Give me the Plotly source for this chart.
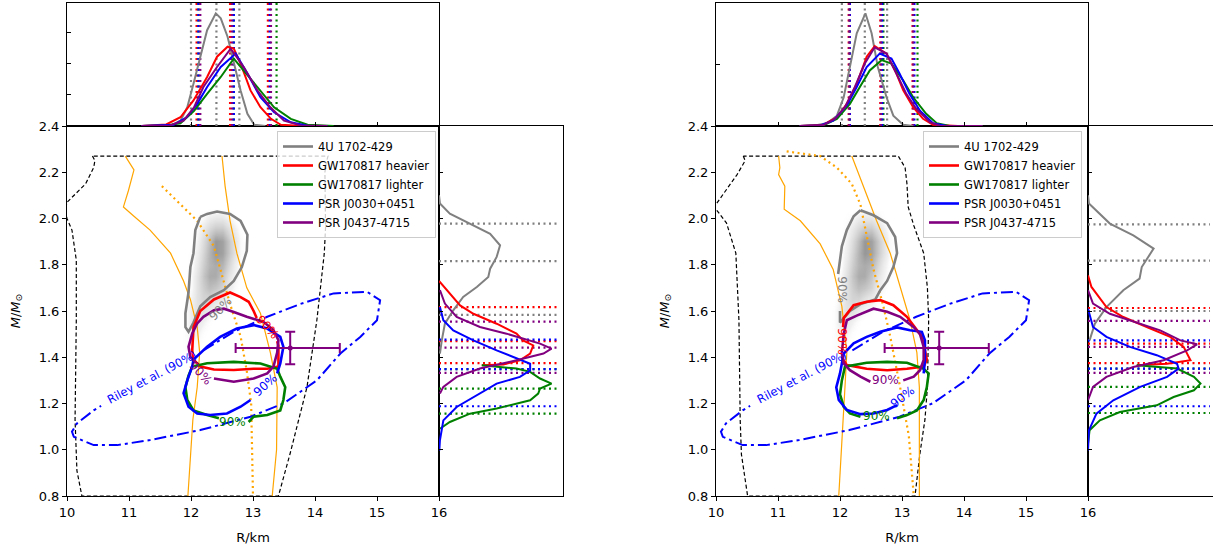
import plotly.graph_objects as go

# ---------------- DATA ----------------
YTICKS = [0.8, 1.0, 1.2, 1.4, 1.6, 1.8, 2.0, 2.2, 2.4]
XTICKS = [10, 11, 12, 13, 14, 15, 16]
SERIES = ["4U 1702-429", "GW170817 heavier", "GW170817 lighter", "PSR J0030+0451", "PSR J0437-4715"]
KEYS = ["gray", "red", "green", "blue", "purple"]

# gray 2D density (shared by both panels)
BLOB_R = [11.8, 11.9, 12.0, 12.1, 12.2, 12.3, 12.4, 12.5, 12.6, 12.7, 12.8, 12.9, 13.0]
BLOB_M = [1.45, 1.50, 1.55, 1.60, 1.65, 1.70, 1.75, 1.80, 1.85, 1.90, 1.95, 2.00, 2.05]
BLOB_Z = [
    [0, 0.05, 0.10, 0.05, 0, 0, 0, 0, 0, 0, 0, 0, 0],
    [0, 0.05, 0.15, 0.15, 0.05, 0, 0, 0, 0, 0, 0, 0, 0],
    [0, 0.05, 0.20, 0.25, 0.15, 0.05, 0, 0, 0, 0, 0, 0, 0],
    [0, 0.05, 0.20, 0.30, 0.30, 0.20, 0.10, 0.05, 0, 0, 0, 0, 0],
    [0, 0, 0.15, 0.30, 0.40, 0.40, 0.30, 0.20, 0.10, 0, 0, 0, 0],
    [0, 0, 0.10, 0.30, 0.45, 0.55, 0.50, 0.40, 0.20, 0.10, 0, 0, 0],
    [0, 0, 0.10, 0.30, 0.50, 0.65, 0.65, 0.50, 0.30, 0.15, 0.05, 0, 0],
    [0, 0, 0.05, 0.25, 0.45, 0.60, 0.65, 0.60, 0.40, 0.20, 0.05, 0, 0],
    [0, 0, 0.05, 0.20, 0.40, 0.60, 0.75, 0.70, 0.50, 0.30, 0.10, 0, 0],
    [0, 0, 0, 0.15, 0.35, 0.55, 0.75, 0.70, 0.50, 0.30, 0.10, 0, 0],
    [0, 0, 0, 0.10, 0.25, 0.40, 0.50, 0.50, 0.35, 0.20, 0.05, 0, 0],
    [0, 0, 0, 0.05, 0.10, 0.20, 0.25, 0.25, 0.15, 0.05, 0, 0, 0],
    [0, 0, 0, 0, 0, 0, 0, 0, 0, 0, 0, 0, 0],
]

# Riley et al. 90% ellipse (shared), gap where the label sits
RILEY_R = [12.20, 12.69, 13.23, 13.76, 14.30, 14.84, 15.05, 15.00, 14.73, 14.41, 14.03, 13.49, 12.96, 12.15,
           11.34, 10.81, 10.43, 10.11, 10.08, 10.16, 10.43, 10.55]
RILEY_M = [1.43, 1.51, 1.575, 1.63, 1.676, 1.683, 1.647, 1.56, 1.488, 1.416, 1.30, 1.20, 1.143, 1.085,
           1.042, 1.02, 1.02, 1.056, 1.078, 1.114, 1.17, 1.19]
# PSR J0437-4715 point with error bars
PSR_R, PSR_M = 13.6, 1.44
PSR_R_LO, PSR_R_HI = 0.88, 0.80
PSR_M_ERR = 0.07

# ---- left panel ----
L_DASH_R = [10.41, 10.45, 10.43, 10.30, 10.00, 9.97, 10.00, 10.08, 10.15, 10.15, 10.13, 10.16, 10.24, 13.41,
            13.60, 13.87, 14.03, 14.15, 14.17, 14.16, 14.16, 14.18, 14.21, 10.41]
L_DASH_M = [2.27, 2.25, 2.22, 2.15, 2.07, 2.035, 2.00, 1.95, 1.82, 1.56, 1.13, 0.91, 0.80, 0.80,
            0.985, 1.27, 1.56, 1.85, 1.96, 2.10, 2.20, 2.24, 2.27, 2.27]
L_OR1_R = [10.94, 11.08, 10.99, 10.91, 11.08, 11.34, 11.67, 11.88, 11.99, 12.10, 12.14, 12.10, 12.03, 11.99, 11.95]
L_OR1_M = [2.27, 2.21, 2.12, 2.05, 2.01, 1.95, 1.85, 1.73, 1.65, 1.53, 1.42, 1.27, 1.13, 0.98, 0.80]
L_OR2_R = [12.50, 12.55, 12.63, 12.74, 12.90, 13.12, 13.28, 13.39, 13.38, 13.31]
L_OR2_M = [2.27, 2.14, 1.99, 1.85, 1.70, 1.59, 1.42, 1.27, 1.00, 0.80]
L_ORD_R = [11.53, 11.83, 12.10, 12.37, 12.47, 12.63, 12.80, 12.90, 12.97, 12.98, 13.00]
L_ORD_M = [2.14, 2.06, 1.99, 1.88, 1.78, 1.63, 1.49, 1.34, 1.20, 0.98, 0.80]

L_CONT = {
    "gray": ([12.15, 12.07, 12.04, 11.99, 11.96, 11.91, 11.91, 11.96, 12.04, 12.15, 12.31, 12.53, 12.69, 12.82, 12.90,
              12.91, 12.80, 12.63, 12.42, 12.26, 12.15],
             [2.007, 1.95, 1.85, 1.79, 1.68, 1.59, 1.53, 1.51, 1.55, 1.62, 1.66, 1.69, 1.73, 1.79, 1.86,
              1.93, 1.99, 2.02, 2.03, 2.02, 2.007]),
    "red": ([13.06, 13.01, 12.93, 12.80, 12.63, 12.37, 12.15, 12.04, 12.02, 12.04, 12.15, 12.37, 12.69, 13.01, 13.23,
             13.41, 13.41, 13.41, 13.39],
            [1.57, 1.60, 1.64, 1.66, 1.68, 1.65, 1.60, 1.53, 1.43, 1.39, 1.36, 1.347, 1.345, 1.35, 1.35,
             1.36, 1.42, 1.45, 1.47]),
    "green": ([12.93, 13.01, 13.23, 13.44, 13.49, 13.52, 13.44, 13.39, 13.12, 12.69, 12.26, 12.02, 11.96, 11.91, 11.94,
               12.04, 12.26, 12.45],
              [1.12, 1.143, 1.15, 1.17, 1.215, 1.27, 1.316, 1.35, 1.373, 1.38, 1.374, 1.36, 1.32, 1.27, 1.215,
               1.17, 1.15, 1.136]),
    "blue": ([13.39, 13.44, 13.49, 13.44, 13.23, 13.01, 12.74, 12.47, 12.26, 12.04, 12.02, 11.94, 11.88, 11.96, 12.10,
              12.31, 12.58, 12.80, 12.96],
             [1.33, 1.373, 1.445, 1.488, 1.524, 1.539, 1.524, 1.488, 1.445, 1.39, 1.36, 1.30, 1.244, 1.186, 1.157,
              1.15, 1.157, 1.186, 1.215]),
    "purple": ([12.37, 12.69, 13.01, 13.23, 13.33, 13.39, 13.41, 13.33, 13.17, 12.90, 12.69, 12.53, 12.37, 12.20, 12.10,
                12.02, 11.96, 11.99, 12.07],
               [1.308, 1.294, 1.308, 1.33, 1.36, 1.42, 1.474, 1.517, 1.553, 1.575, 1.596, 1.61, 1.603, 1.575, 1.546,
                1.503, 1.445, 1.40, 1.38]),
}
L_LABELS = [("gray", 12.47, 1.61, -47), ("red", 13.23, 1.53, 48), ("purple", 12.15, 1.33, 48),
            ("blue", 13.20, 1.28, -42), ("green", 12.67, 1.12, 0)]
L_RILEY_LABEL = (11.37, 1.316, -28)

L_TOP = {
    "gray": ([11.5, 11.7, 11.83, 11.94, 12.04, 12.15, 12.26, 12.40, 12.48, 12.59, 12.69, 12.80, 12.91, 13.02, 13.2],
             [0, 0.04, 0.17, 0.6, 1.35, 2.2, 3.07, 3.61, 3.45, 2.86, 2.0, 1.14, 0.39, 0.04, 0]),
    "red": ([11.2, 11.6, 11.83, 12.04, 12.26, 12.42, 12.59, 12.69, 12.80, 12.96, 13.12, 13.29, 13.45, 13.8],
            [0, 0.05, 0.28, 0.82, 1.57, 2.22, 2.54, 2.48, 2.0, 1.14, 0.6, 0.23, 0.04, 0]),
    "green": ([11.2, 11.6, 11.83, 12.05, 12.26, 12.48, 12.69, 12.91, 13.12, 13.34, 13.61, 13.88, 14.3],
              [0, 0.02, 0.09, 0.49, 1.03, 1.57, 2.16, 1.62, 1.14, 0.6, 0.23, 0.04, 0]),
    "blue": ([11.2, 11.72, 11.93, 12.10, 12.26, 12.48, 12.72, 12.91, 13.12, 13.34, 13.61, 13.88, 14.2],
             [0, 0.04, 0.28, 0.71, 1.25, 1.89, 2.32, 1.68, 0.92, 0.44, 0.12, 0.01, 0]),
    "purple": ([11.2, 11.66, 11.88, 12.05, 12.20, 12.42, 12.64, 12.85, 13.07, 13.28, 13.5, 13.77, 14.2],
               [0, 0.02, 0.17, 0.6, 1.25, 1.89, 2.48, 1.89, 1.14, 0.6, 0.17, 0.02, 0]),
}
L_TOP_LINES = {"gray": [12.00, 12.41, 12.78], "red": [12.09, 12.63, 13.24], "green": [12.12, 12.69, 13.38],
               "blue": [12.12, 12.69, 13.27], "purple": [12.15, 12.66, 13.29]}
L_SIDE = {
    "gray": ([0, 0.03, 0.35, 1.0, 1.65, 1.97, 1.86, 1.65, 1.59, 1.22, 0.78, 0.46, 0.19, 0.09, 0.03],
             [2.10, 2.065, 2.021, 1.978, 1.934, 1.884, 1.834, 1.783, 1.747, 1.704, 1.661, 1.603, 1.545, 1.473, 1.416]),
    "red": ([0.0, 0.35, 0.68, 1.11, 1.86, 2.5, 2.71, 3.04, 2.94, 2.61, 2.08, 1.38],
            [1.73, 1.675, 1.624, 1.588, 1.545, 1.502, 1.473, 1.451, 1.416, 1.387, 1.369, 1.365]),
    "green": ([1.38, 2.5, 2.94, 3.26, 3.63, 3.26, 3.2, 2.94, 1.86, 1.0, 0.35, 0.03],
              [1.365, 1.351, 1.337, 1.308, 1.286, 1.265, 1.243, 1.214, 1.178, 1.156, 1.12, 1.091]),
    "blue": ([0.03, 0.14, 0.46, 1.11, 1.86, 2.5, 2.94, 2.94, 2.61, 1.86, 1.32, 0.57, 0.14, 0.03, 0.01],
             [1.617, 1.56, 1.516, 1.473, 1.43, 1.394, 1.372, 1.343, 1.315, 1.286, 1.243, 1.185, 1.127, 1.041, 0.997]),
    "purple": ([0.03, 0.19, 0.57, 1.32, 2.18, 3.26, 3.63, 3.37, 2.5, 1.32, 0.57, 0.14, 0.03],
               [1.69, 1.632, 1.574, 1.531, 1.502, 1.459, 1.437, 1.416, 1.387, 1.351, 1.315, 1.272, 1.243]),
}
L_SIDE_LINES = {"gray": [1.978, 1.816, 1.583], "red": [1.617, 1.470, 1.375], "green": [1.349, 1.264, 1.156],
                "blue": [1.476, 1.349, 1.188], "purple": [1.554, 1.442, 1.332]}

# ---- right panel ----
R_DASH_R = [10.44, 10.47, 10.34, 10.15, 9.97, 10.00, 10.17, 10.32, 10.37, 10.39, 10.41, 10.51, 13.21,
            13.29, 13.37, 13.41, 13.43, 13.41, 13.35, 13.19, 13.10, 13.08, 13.05, 12.94, 10.44]
R_DASH_M = [2.27, 2.25, 2.19, 2.12, 2.05, 2.04, 1.98, 1.85, 1.56, 1.13, 0.98, 0.80, 0.80,
            0.985, 1.13, 1.27, 1.56, 1.70, 1.85, 1.97, 2.05, 2.15, 2.22, 2.27, 2.27]
R_OR1_R = [11.01, 11.03, 11.01, 11.11, 11.10, 11.36, 11.68, 11.89, 12.03, 12.11, 12.08, 12.03, 11.98]
R_OR1_M = [2.27, 2.22, 2.19, 2.14, 2.04, 1.99, 1.89, 1.78, 1.62, 1.42, 1.27, 1.06, 0.80]
R_OR2_R = [12.19, 12.33, 12.59, 12.81, 12.97, 13.13, 13.24, 13.28, 13.28]
R_OR2_M = [2.27, 2.17, 1.99, 1.85, 1.70, 1.56, 1.42, 1.27, 0.80]
R_ORD_R = [11.14, 11.41, 11.68, 11.95, 12.19, 12.33, 12.43, 12.54, 12.70, 12.81, 12.97, 13.11, 13.19]
R_ORD_M = [2.29, 2.28, 2.27, 2.22, 2.15, 2.06, 1.92, 1.78, 1.62, 1.49, 1.27, 1.06, 0.80]

R_CONT = {
    "gray": ([12.33, 12.54, 12.76, 12.89, 12.92, 12.86, 12.76, 12.65, 12.57, 12.33, 12.16, 12.06, 12.00, 12.00, None,
              11.97, 12.03, 12.11, 12.22, 12.33],
             [2.036, 2.014, 1.98, 1.92, 1.85, 1.79, 1.73, 1.69, 1.65, 1.63, 1.60, 1.57, 1.55, 1.60, None,
              1.76, 1.88, 1.95, 2.01, 2.036]),
    "red": ([12.05, 12.06, 12.22, 12.43, 12.65, 12.86, 13.08, 13.21, 13.32, 13.37, 13.40, 13.35, 13.08, 12.76, 12.43,
             12.11, 12.03],
            [1.53, 1.57, 1.625, 1.64, 1.647, 1.625, 1.575, 1.53, 1.49, 1.43, 1.39, 1.36, 1.35, 1.344, 1.35,
             1.366, 1.40]),
    "green": ([12.92, 13.08, 13.24, 13.35, 13.40, 13.43, 13.35, 13.08, 12.76, 12.43, 12.08, 12.03, 12.00, 12.06, 12.16,
               12.33],
              [1.136, 1.15, 1.17, 1.215, 1.27, 1.33, 1.35, 1.376, 1.38, 1.376, 1.359, 1.30, 1.24, 1.186, 1.157,
               1.143]),
    "blue": ([13.35, 13.37, 13.37, 13.32, 13.13, 12.92, 12.65, 12.43, 12.22, 12.06, 12.00, 11.94, 11.98, 12.11, 12.33,
              12.54, 12.76, 12.92],
             [1.33, 1.388, 1.474, 1.51, 1.517, 1.529, 1.51, 1.488, 1.46, 1.416, 1.33, 1.27, 1.215, 1.172, 1.154,
              1.157, 1.172, 1.193]),
    "purple": ([13.02, 13.19, 13.29, 13.35, 13.35, 13.29, 13.19, 12.97, 12.76, 12.54, 12.27, 12.11, 12.06, 12.03, 12.06,
                12.16, 12.33, 12.49],
               [1.30, 1.316, 1.344, 1.388, 1.445, 1.50, 1.53, 1.575, 1.597, 1.61, 1.58, 1.56, 1.50, 1.416, 1.373,
                1.344, 1.316, 1.294]),
}
R_LABELS = [("gray", 12.03, 1.69, 90), ("red", 12.03, 1.467, 90), ("purple", 12.73, 1.301, 0),
            ("blue", 13.01, 1.229, -38), ("green", 12.59, 1.146, 0)]
R_RILEY_LABEL = (11.38, 1.316, -28)

R_TOP = {
    "gray": ([11.4, 11.57, 11.79, 11.95, 12.06, 12.16, 12.27, 12.41, 12.51, 12.61, 12.75, 12.86, 13.02, 13.18],
             [0, 0.01, 0.09, 0.33, 0.92, 1.89, 2.97, 3.61, 2.97, 1.89, 0.92, 0.33, 0.04, 0]),
    "red": ([11.35, 11.73, 11.95, 12.11, 12.27, 12.43, 12.56, 12.75, 12.91, 13.02, 13.18, 13.34, 13.5, 13.9],
            [0, 0.04, 0.28, 0.71, 1.35, 2.22, 2.56, 2.32, 1.68, 1.14, 0.6, 0.23, 0.04, 0]),
    "green": ([11.35, 11.73, 11.95, 12.16, 12.32, 12.48, 12.67, 12.83, 13.02, 13.18, 13.39, 13.56, 13.77, 14.3],
              [0, 0.02, 0.23, 0.71, 1.25, 1.78, 2.11, 2.0, 1.46, 0.92, 0.39, 0.09, 0, 0]),
    "blue": ([11.35, 11.68, 11.89, 12.11, 12.27, 12.43, 12.64, 12.83, 12.96, 13.12, 13.29, 13.5, 13.72, 14.2],
             [0, 0.02, 0.17, 0.66, 1.25, 1.89, 2.32, 2.16, 1.68, 1.03, 0.49, 0.09, 0, 0]),
    "purple": ([11.35, 11.73, 11.92, 12.08, 12.24, 12.40, 12.56, 12.75, 12.91, 13.07, 13.23, 13.45, 13.61, 14.3],
               [0, 0.03, 0.23, 0.6, 1.25, 2.0, 2.52, 2.32, 1.68, 1.03, 0.55, 0.12, 0.01, 0]),
}
R_TOP_LINES = {"gray": [12.03, 12.40, 12.76], "red": [12.14, 12.65, 13.17], "green": [12.16, 12.70, 13.25],
               "blue": [12.16, 12.68, 13.20], "purple": [12.15, 12.66, 13.18]}
R_SIDE = {
    "gray": ([0, 0.03, 0.7, 1.45, 2.1, 1.94, 1.72, 1.65, 1.13, 0.59, 0.22, 0.05],
             [2.10, 2.065, 1.978, 1.927, 1.87, 1.834, 1.79, 1.74, 1.69, 1.617, 1.545, 1.473]),
    "red": ([0, 0.11, 0.59, 1.13, 1.88, 2.63, 3.06, 3.17, 3.28, 2.53, 1.56],
            [1.754, 1.704, 1.617, 1.574, 1.531, 1.488, 1.445, 1.416, 1.387, 1.372, 1.365]),
    "green": ([1.56, 2.85, 3.39, 3.6, 3.39, 2.74, 2.2, 1.02, 0.38, 0.05, 0],
              [1.365, 1.351, 1.315, 1.286, 1.257, 1.228, 1.192, 1.163, 1.127, 1.084, 1.027]),
    "blue": ([0, 0.16, 0.59, 1.34, 2.2, 2.85, 2.9, 2.53, 1.67, 0.81, 0.27, 0.03, 0],
             [1.61, 1.531, 1.488, 1.445, 1.409, 1.372, 1.351, 1.315, 1.272, 1.214, 1.156, 1.084, 0.997]),
    "purple": ([0, 0.16, 0.7, 1.34, 2.31, 2.96, 3.49, 3.17, 2.42, 1.45, 0.59, 0.16, 0],
               [1.69, 1.632, 1.588, 1.56, 1.516, 1.473, 1.456, 1.43, 1.387, 1.358, 1.315, 1.272, 1.214]),
}
R_SIDE_LINES = {"gray": [1.975, 1.818, 1.600], "red": [1.613, 1.459, 1.375], "green": [1.351, 1.272, 1.159],
                "blue": [1.473, 1.351, 1.188], "purple": [1.557, 1.445, 1.332]}

COLORS = {"gray": "#808080", "red": "#ff0000", "green": "#008000", "blue": "#0000ff", "purple": "#800080"}
TOP_MAX, SIDE_MAX = 3.95, 4.0

# ---------------- FIGURE ----------------
fig = go.Figure()


def line(x, y, xa, ya, color, width, dash="solid", **kw):
    fig.add_trace(go.Scatter(x=x, y=y, xaxis=xa, yaxis=ya, mode="lines", hoverinfo="skip",
                             line=dict(color=color, width=width, dash=dash),
                             showlegend=kw.pop("showlegend", False), **kw))


panels = [
    dict(ax=("x", "y"), top=("x2", "y2"), side=("x3", "y3"), legend="legend",
         dash=(L_DASH_R, L_DASH_M), or1=(L_OR1_R, L_OR1_M), or2=(L_OR2_R, L_OR2_M), ord=(L_ORD_R, L_ORD_M),
         cont=L_CONT, labels=L_LABELS, riley=L_RILEY_LABEL, topc=L_TOP, topl=L_TOP_LINES,
         sidec=L_SIDE, sidel=L_SIDE_LINES),
    dict(ax=("x4", "y4"), top=("x5", "y5"), side=("x6", "y6"), legend="legend2",
         dash=(R_DASH_R, R_DASH_M), or1=(R_OR1_R, R_OR1_M), or2=(R_OR2_R, R_OR2_M), ord=(R_ORD_R, R_ORD_M),
         cont=R_CONT, labels=R_LABELS, riley=R_RILEY_LABEL, topc=R_TOP, topl=R_TOP_LINES,
         sidec=R_SIDE, sidel=R_SIDE_LINES),
]

annotations = []
for p in panels:
    xa, ya = p["ax"]
    fig.add_trace(go.Heatmap(x=BLOB_R, y=BLOB_M, z=BLOB_Z, xaxis=xa, yaxis=ya, zmin=0, zmax=1,
                             zsmooth="best", showscale=False, hoverinfo="skip",
                             colorscale=[[0, "rgba(255,255,255,0)"], [0.15, "rgba(215,215,215,0.35)"],
                                         [1, "rgba(50,50,50,0.8)"]]))
    line(*p["dash"], xa, ya, "black", 1.2, "4px,2.5px")
    line(*p["or1"], xa, ya, "orange", 1.2)
    line(*p["or2"], xa, ya, "orange", 1.2)
    line(*p["ord"], xa, ya, "orange", 2.2, "2px,3.5px")
    line(RILEY_R, RILEY_M, xa, ya, "blue", 2, "12px,4px,3px,4px")
    for k, name in zip(KEYS, SERIES):
        cx, cy = p["cont"][k]
        line(cx, cy, xa, ya, COLORS[k], 2.6, showlegend=True, name=name, legend=p["legend"],
             connectgaps=False)
    fig.add_trace(go.Scatter(x=[PSR_R], y=[PSR_M], xaxis=xa, yaxis=ya, mode="markers", hoverinfo="skip",
                             showlegend=False, marker=dict(color="purple", size=5),
                             error_x=dict(type="data", symmetric=False, array=[PSR_R_HI], arrayminus=[PSR_R_LO],
                                          color="purple", thickness=2, width=5),
                             error_y=dict(type="data", array=[PSR_M_ERR], color="purple", thickness=2, width=5)))
    for k, r, m, ang in p["labels"]:
        annotations.append(dict(x=r, y=m, xref=xa, yref=ya, text="90%", showarrow=False, textangle=ang,
                                font=dict(size=12, color=COLORS[k], family="DejaVu Sans")))
    rr, rm, rang = p["riley"]
    annotations.append(dict(x=rr, y=rm, xref=xa, yref=ya, text="Riley et al. (90%)", showarrow=False,
                            textangle=rang, font=dict(size=11.5, color="blue", family="DejaVu Sans")))
    # top marginal
    txa, tya = p["top"]
    for k in KEYS:
        for v in p["topl"][k]:
            line([v, v], [0, TOP_MAX], txa, tya, COLORS[k], 2.2, "2px,3.5px")
    for k in KEYS:
        cx, cy = p["topc"][k]
        line(cx, cy, txa, tya, COLORS[k], 2)
    # side marginal
    sxa, sya = p["side"]
    for k in KEYS:
        for v in p["sidel"][k]:
            line([0, 3.9], [v, v], sxa, sya, COLORS[k], 2.2, "2px,3.5px")
    for k in KEYS:
        cx, cy = p["sidec"][k]
        line(cx, cy, sxa, sya, COLORS[k], 2)

# ---------------- LAYOUT ----------------
W, H = 1213, 545
def fx(px): return px / W
def fy(py): return (H - py) / H

MAIN_Y = [fy(496), fy(126)]
TOP_Y = [fy(126), fy(2.7)]
base = dict(showline=True, linecolor="black", linewidth=1, mirror=True, showgrid=False, zeroline=False,
            automargin=False, tickcolor="black",
            tickfont=dict(size=13, color="black", family="DejaVu Sans"))
ytext = [f"{v:.1f}" for v in YTICKS]
xtext = [str(v) for v in XTICKS]
ytitle = dict(text="<i>M</i>/<i>M</i><sub>⊙</sub>", font=dict(size=13, color="black"))
xtitle = dict(text="R/km", font=dict(size=13, color="black"))

layout = dict(width=W, height=H, margin=dict(l=0, r=0, t=0, b=0), plot_bgcolor="white", paper_bgcolor="white",
              font=dict(family="DejaVu Sans", color="black"), annotations=annotations)
for i, (x0, x1, sx1) in enumerate([(67, 439, 563), (716, 1088, W)]):
    n = 3 * i
    a, b, c = ("" if n == 0 else str(n + 1)), str(n + 2), str(n + 3)
    layout["xaxis" + a] = dict(base, domain=[fx(x0), fx(x1)], range=[10, 16], anchor="y" + a, ticks="outside",
                               ticklen=4, tickvals=XTICKS, ticktext=xtext, title=xtitle)
    layout["yaxis" + a] = dict(base, domain=MAIN_Y, range=[0.8, 2.4], anchor="x" + a, ticks="outside",
                               ticklen=4, tickvals=YTICKS, ticktext=ytext, title=ytitle)
    layout["xaxis" + b] = dict(base, domain=[fx(x0), fx(x1)], range=[10, 16], anchor="y" + b, ticks="inside",
                               ticklen=4, tickvals=[11, 12, 13, 14, 15], showticklabels=False)
    layout["yaxis" + b] = dict(base, domain=TOP_Y, range=[0, TOP_MAX], anchor="x" + b, ticks="inside",
                               ticklen=4, tickvals=[0, 1, 2, 3] if i == 0 else [0, 1.968, 3.935],
                               showticklabels=False)
    layout["xaxis" + c] = dict(base, domain=[fx(x1), fx(sx1) if i == 0 else 1.0], range=[0, SIDE_MAX],
                               anchor="y" + c, ticks="", showticklabels=False)
    layout["yaxis" + c] = dict(base, domain=MAIN_Y, range=[0.8, 2.4], anchor="x" + c, ticks="inside",
                               ticklen=4, tickvals=YTICKS, showticklabels=False, mirror=(i == 0))

leg = dict(yanchor="top", xanchor="right", y=fy(131), bgcolor="rgba(255,255,255,0.8)", bordercolor="#cccccc",
           borderwidth=1, font=dict(size=11.5, color="black", family="DejaVu Sans"), tracegroupgap=0)
layout["legend"] = dict(leg, x=fx(436))
layout["legend2"] = dict(leg, x=fx(1082))
fig.update_layout(**layout)

fig.write_html("out.html", config={"displayModeBar": False},
               post_script="document.body.style.margin='0';document.body.style.overflow='hidden';")
